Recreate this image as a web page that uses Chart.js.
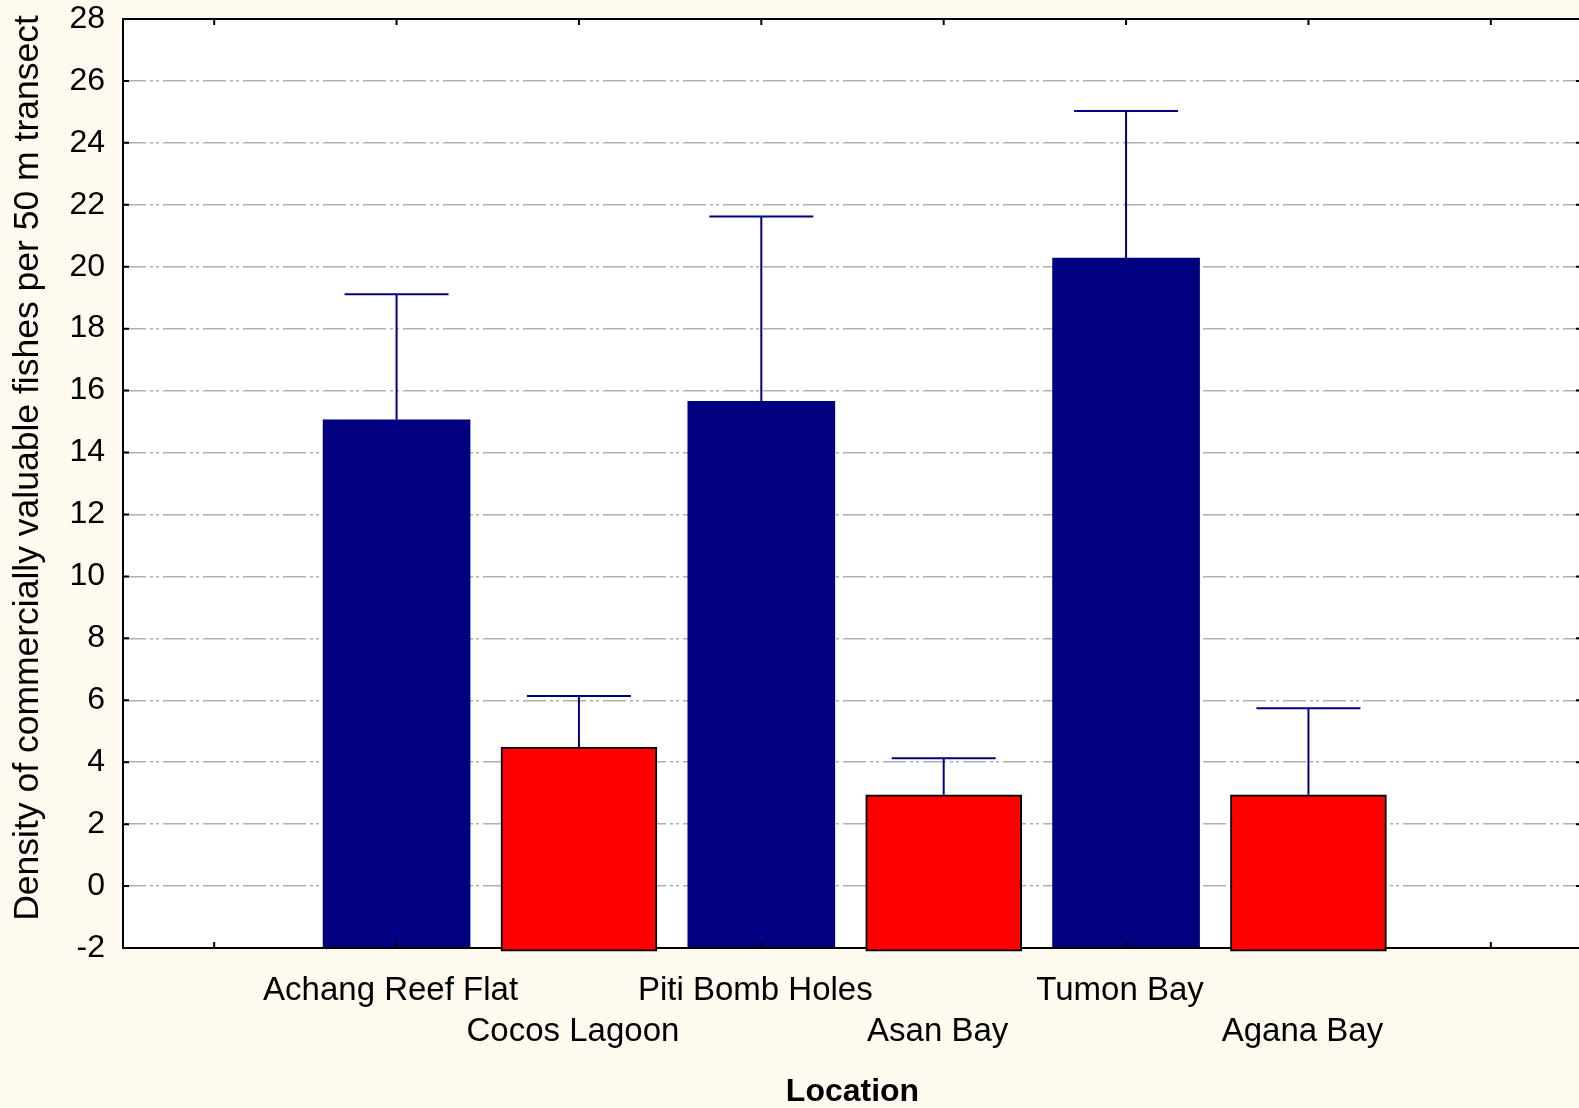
<!DOCTYPE html>
<html>
<head>
<meta charset="utf-8">
<script src="https://cdn.jsdelivr.net/npm/chart.js@4/dist/chart.umd.min.js"></script>
<style>
  html, body { margin: 0; padding: 0; background: #fffaf0; overflow: hidden; }
  #wrap { width: 1584px; height: 1108px; }
</style>
</head>
<body>
<div id="wrap"><canvas id="myChart" width="1584" height="1108"></canvas></div>
<script>
// data (empty slots at both ends of the axis)
var locations = ["", "Achang Reef Flat", "Cocos Lagoon", "Piti Bomb Holes", "Asan Bay", "Tumon Bay", "Agana Bay", ""];
var means = [null, 15.06, 4.49, 15.65, 2.95, 20.28, 2.95, null];
var upperLimits = [null, 19.11, 6.14, 21.62, 4.13, 25.03, 5.74, null];
var group = ["", "blue", "red", "blue", "red", "blue", "red", ""];
var yTicks = [-2, 28, 2]; // min, max, step

var axisMin = yTicks[0];
var blueData = means.map(function (v, i) { return group[i] == "blue" ? [axisMin, v] : null; });
var redData = means.map(function (v, i) { return group[i] == "red" ? [axisMin - 0.1, v] : null; });

var FONT = "'Liberation Sans', Arial, sans-serif";

var framePlugin = {
  id: 'frame',
  beforeDraw: function (chart) {
    var c = chart.ctx, a = chart.chartArea;
    c.save();
    c.fillStyle = '#fffaf0';
    c.fillRect(0, 0, chart.width, chart.height);
    c.fillStyle = '#ffffff';
    c.fillRect(a.left, a.top, a.right - a.left, a.bottom - a.top);
    c.restore();
  },
  afterDatasetDraw: function (chart, args) {
    if (args.index !== 1) return; // draw the frame between blue and red bars
    var c = chart.ctx, a = chart.chartArea;
    var xs = chart.scales.x, ys = chart.scales.y;
    c.save();
    c.strokeStyle = '#000';
    c.lineWidth = 2;
    c.strokeRect(a.left, a.top, a.right - a.left, a.bottom - a.top);
    c.beginPath();
    for (var i = 0; i < locations.length; i++) {
      var x = xs.getPixelForValue(i);
      c.moveTo(x, a.bottom); c.lineTo(x, a.bottom - 6);
      c.moveTo(x, a.top); c.lineTo(x, a.top + 6);
    }
    ys.ticks.forEach(function (t) {
      var y = ys.getPixelForValue(t.value);
      c.moveTo(a.left, y); c.lineTo(a.left + 6, y);
      c.moveTo(a.right, y); c.lineTo(a.right - 6, y);
    });
    c.stroke();
    c.restore();
  },
  afterDatasetsDraw: function (chart) {
    var c = chart.ctx;
    var xs = chart.scales.x, ys = chart.scales.y;
    c.save();
    c.strokeStyle = '#000080';
    c.lineWidth = 2;
    c.beginPath();
    for (var i = 0; i < means.length; i++) {
      if (upperLimits[i] == null) continue;
      var x = xs.getPixelForValue(i);
      var y0 = ys.getPixelForValue(means[i]);
      var y1 = ys.getPixelForValue(upperLimits[i]);
      c.moveTo(x, y0); c.lineTo(x, y1);
      c.moveTo(x - 52, y1); c.lineTo(x + 52, y1);
    }
    c.stroke();
    // y axis title
    c.fillStyle = '#000';
    c.font = '35.5px ' + FONT;
    c.textAlign = 'center';
    c.textBaseline = 'middle';
    c.translate(28, 468);
    c.rotate(-Math.PI / 2);
    c.fillText('Density of commercially valuable fishes per 50 m transect', 0, 0);
    c.restore();
  }
};

var ctx = document.getElementById("myChart").getContext('2d');
var myChart = new Chart(ctx, {
  type: 'bar',
  data: {
    labels: locations,
    datasets: [{
      label: 'red',
      data: redData,
      backgroundColor: '#ff0000',
      borderColor: '#000000',
      borderWidth: 2,
      borderSkipped: false,
      barThickness: 156,
      clip: false
    }, {
      label: 'blue',
      data: blueData,
      backgroundColor: '#000080',
      borderWidth: 0,
      barThickness: 147
    }]
  },
  options: {
    responsive: false,
    animation: false,
    devicePixelRatio: 1,
    layout: { padding: { top: 19, right: 2, left: 0, bottom: 0 } },
    plugins: { legend: { display: false }, tooltip: { enabled: false } },
    datasets: { bar: { grouped: false } },
    scales: {
      x: {
        grid: { display: false },
        border: { display: false },
        ticks: {
          autoSkip: false,
          maxRotation: 0,
          minRotation: 0,
          padding: 15,
          labelOffset: -6,
          color: '#000',
          font: { family: FONT, size: 33, lineHeight: 1.23 },
          callback: function (v, i) {
            var s = locations[i];
            return i % 2 === 0 ? ['', s] : s;
          }
        },
        title: {
          display: true,
          text: 'Location',
          color: '#000',
          padding: 0,
          font: { family: FONT, size: 32, weight: 'bold', lineHeight: 1 }
        },
        afterFit: function (s) { s.height = 160; }
      },
      y: {
        min: yTicks[0],
        max: yTicks[1],
        grid: {
          color: '#b0b0b0',
          lineWidth: 1.5,
          drawTicks: false
        },
        border: { display: false, dash: [23, 4, 3, 3, 3, 4] },
        ticks: {
          stepSize: yTicks[2],
          padding: 18,
          color: '#000',
          font: { family: FONT, size: 32 }
        },
        afterFit: function (s) {
          s.width = 123;
          s.paddingTop = 0;
          s.paddingBottom = 0;
        }
      }
    }
  },
  plugins: [framePlugin]
});
</script>
</body>
</html>
